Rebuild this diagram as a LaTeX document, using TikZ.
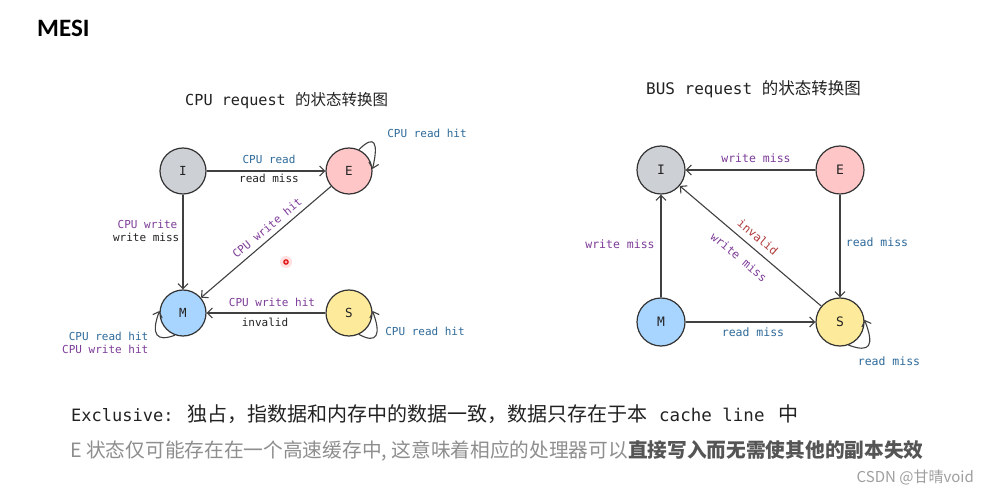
\documentclass[tikz,border=0pt]{standalone}
\usepackage{fontspec}
\setmainfont{Carlito}
\setmonofont{DejaVu Sans Mono}
\newfontfamily\cjk{Noto Sans CJK SC}
\usetikzlibrary{arrows.meta}
\definecolor{lblue}{HTML}{2E6A9A}
\definecolor{lpurple}{HTML}{7D3C98}
\definecolor{lred}{HTML}{B03A3A}
\definecolor{ltext}{HTML}{222222}
\definecolor{cI}{HTML}{CDD0D5}
\definecolor{cE}{HTML}{FFC6C8}
\definecolor{cM}{HTML}{A8D5FF}
\definecolor{cS}{HTML}{FDEA9B}
\definecolor{stroke}{HTML}{333333}
\definecolor{edgec}{HTML}{404040}
\definecolor{gray1}{HTML}{8E8E8E}
\definecolor{gray2}{HTML}{555555}
\begin{document}
\begin{tikzpicture}[x=1pt,y=1pt,
  st/.style={circle,draw=stroke,line width=1.2pt,minimum size=46pt,inner sep=0pt,text=ltext,font=\ttfamily\fontsize{12.5}{13}\selectfont},
  stb/.style={st,minimum size=48pt,font=\ttfamily\fontsize{13}{13}\selectfont},
  ed/.style={draw=edgec,line width=1.1pt,-{Straight Barb[length=5pt,width=10pt,line width=1.1pt]}},
  lb/.style={inner sep=0.5pt,font=\ttfamily\fontsize{11}{11}\selectfont},
  lbr/.style={inner sep=0.5pt,font=\ttfamily\fontsize{11.5}{12}\selectfont},
]
\useasboundingbox (0,0) rectangle (988,-494);
\fill[white] (0,0) rectangle (988,-494);

% heading
\node[anchor=base west,inner sep=0,font=\bfseries\fontsize{25}{25}\selectfont] (mesi) at (37,-37) {MESI};

% titles
\node[anchor=base west,inner sep=0,text=ltext] (t1) at (185,-106) {{\ttfamily\fontsize{15.2}{16}\selectfont CPU request }{\cjk\fontsize{15.5}{16}\selectfont 的状态转换图}};
\node[anchor=base west,inner sep=0,text=ltext] (t2) at (646,-95) {{\ttfamily\fontsize{16}{16}\selectfont BUS request }{\cjk\fontsize{16.5}{17}\selectfont 的状态转换图}};

% ---------- left diagram ----------
\node[st,fill=cI] (I) at (183,-171) {I};
\node[st,fill=cE] (E) at (349,-171) {E};
\node[st,fill=cM] (M) at (183,-313) {M};
\node[st,fill=cS] (S) at (349,-313) {S};

\draw[ed] (I) -- (E);
\draw[ed] (I) -- (M);
\draw[ed] (E) -- (M);
\draw[ed] (S) -- (M);
\draw[ed] (E.65) .. controls +(16,16) and +(6,26) .. (E.5);
\draw[ed] (S.-65) .. controls +(18,-10) and +(9,-24) .. (S.5);
\draw[ed] (M.-110) .. controls +(-18,-7) and +(-9,-24) .. (M.175);

\node[lb,text=lblue] (l1) at (269,-159) {CPU read};
\node[lb,text=ltext] (l2) at (269,-178) {read miss};
\node[lb,text=lpurple,anchor=east] (l3) at (178,-224) {CPU write};
\node[lb,text=ltext,anchor=east] (l4) at (180,-237) {write miss};
\node[lb,text=lpurple,rotate=40] (l5) at (267,-228) {CPU write hit};
\node[lb,text=lpurple] (l6) at (272,-302) {CPU write hit};
\node[lb,text=ltext] (l7) at (265,-322) {invalid};
\node[lb,text=lblue] (l8) at (427,-133) {CPU read hit};
\node[lb,text=lblue] (l9) at (425,-331) {CPU read hit};
\node[lb,text=lblue,anchor=east] (l10) at (149,-336) {CPU read hit};
\node[lb,text=lpurple,anchor=east] (l11) at (149,-349) {CPU write hit};

% cursor dot
\fill[red!12] (286,-262) circle (6);
\draw[red!85!black,line width=1.1pt,fill=red!35] (286,-262) circle (2.2) node (dot) {};

% ---------- right diagram ----------
\node[stb,fill=cI] (I2) at (661,-170) {I};
\node[stb,fill=cE] (E2) at (840,-170) {E};
\node[stb,fill=cM] (M2) at (661,-322) {M};
\node[stb,fill=cS] (S2) at (840,-322) {S};

\draw[ed] (E2) -- (I2);
\draw[ed] (E2) -- (S2);
\draw[ed] (M2) -- (I2);
\draw[ed] (M2) -- (S2);
\draw[ed] (S2) -- (I2);
\draw[ed] (S2.-70) .. controls +(22,-8) and +(10,-26) .. (S2.5);

\node[lbr,text=lpurple] (r1) at (756,-158) {write miss};
\node[lbr,text=lblue] (r2) at (877,-242) {read miss};
\node[lbr,text=lpurple] (r3) at (620,-244) {write miss};
\node[lbr,text=lblue] (r4) at (753,-332) {read miss};
\node[lbr,text=lred,rotate=-40] (r5) at (758,-237) {invalid};
\node[lbr,text=lpurple,rotate=-40] (r6) at (739,-257) {write miss};
\node[lbr,text=lblue] (r7) at (889,-361) {read miss};

% ---------- bottom text ----------
\node[anchor=base west,inner sep=0,text=ltext,font=\ttfamily\fontsize{17}{17}\selectfont] (x1) at (71,-421) {Exclusive:};
\node[anchor=base west,inner sep=0,text=ltext,font=\cjk\fontsize{20}{20}\selectfont] (x2) at (187,-421) {独占，指数据和内存中的数据一致，数据只存在于本};
\node[anchor=base west,inner sep=0,text=ltext,font=\ttfamily\fontsize{17.5}{18}\selectfont] (x3) at (659,-421) {cache line};
\node[anchor=base west,inner sep=0,text=ltext,font=\cjk\fontsize{20}{20}\selectfont] (x4) at (778,-421) {中};

\node[anchor=base west,inner sep=0,text=gray1,font=\cjk\fontsize{19.7}{20}\selectfont] (y1) at (70,-457) {E 状态仅可能存在在一个高速缓存中, 这意味着相应的处理器可以\textbf{\color{gray2}直接写入而无需使其他的副本失效}};

\node[anchor=base east,inner sep=0,text=gray1!85,font=\cjk\fontsize{15}{15}\selectfont] (csdn) at (974,-482) {CSDN @甘晴void};
\end{tikzpicture}
\end{document}
